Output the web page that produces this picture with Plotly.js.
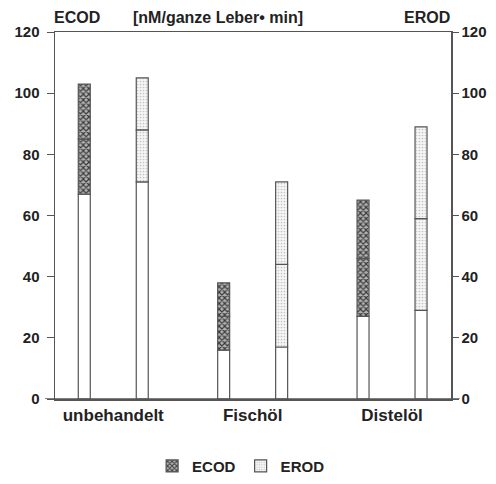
<!DOCTYPE html>
<html>
<head>
<meta charset="utf-8">
<script src="https://cdn.plot.ly/plotly-3.0.1.min.js"></script>
<style>html,body{margin:0;padding:0;background:#fff;}#chart{width:496px;height:484px;}</style>
</head>
<body>
<div id="chart"></div>
<script>
// Data (nM / ganze Leber · min)
var categories = ["unbehandelt", "Fischöl", "Distelöl"];
var ecodLow  = [67, 16, 27];
var ecodMean = [85, 27, 46];
var ecodHigh = [103, 38, 65];
var erodLow  = [71, 17, 29];
var erodMean = [88, 44, 59];
var erodHigh = [105, 71, 89];
var yTicks = [0, 20, 40, 60, 80, 100, 120];

function diff(a, b) { return a.map(function (v, i) { return v - b[i]; }); }

var lineStyle = {color: "#555", width: 1.2};
var ecodPattern = {shape: "x", fgcolor: "#3a3a3a", bgcolor: "#b4b4b4", size: 4, solidity: 0.5};
var erodPattern = {shape: ".", fgcolor: "#c4c4c4", bgcolor: "#f6f6f6", size: 3, solidity: 0.25};
var W = 0.086, offE = -0.251, offR = 0.165;

function seg(name, base, len, off, color, pattern, showlegend) {
  var m = {color: color, line: lineStyle};
  if (pattern) m.pattern = pattern;
  return {type: "bar", x: categories, y: len, base: base, width: W, offset: off,
          marker: m, name: name, showlegend: !!showlegend, hoverinfo: "skip"};
}

var zeros = [0, 0, 0];
var traces = [
  seg("ECOD", zeros, ecodLow, offE, "#ffffff", null, false),
  seg("ECOD", ecodLow, diff(ecodMean, ecodLow), offE, "#b4b4b4", ecodPattern, true),
  seg("ECOD", ecodMean, diff(ecodHigh, ecodMean), offE, "#b4b4b4", ecodPattern, false),
  seg("EROD", zeros, erodLow, offR, "#ffffff", null, false),
  seg("EROD", erodLow, diff(erodMean, erodLow), offR, "#f6f6f6", erodPattern, true),
  seg("EROD", erodMean, diff(erodHigh, erodMean), offR, "#f6f6f6", erodPattern, false),
  {type: "scatter", x: [categories[0]], y: [0], yaxis: "y2", mode: "markers",
   marker: {opacity: 0}, showlegend: false, hoverinfo: "skip"}
];

var fam = "Liberation Sans, Arial, sans-serif";
var fontB = {family: fam, size: 15, color: "#222", weight: "bold"};
var fontT = {family: fam, size: 16, color: "#222", weight: "bold"};

var layout = {
  width: 496, height: 484,
  margin: {l: 55, r: 45, t: 32, b: 85, autoexpand: false},
  paper_bgcolor: "#ffffff", plot_bgcolor: "#ffffff",
  barmode: "overlay",
  font: fontB,
  xaxis: {type: "category", range: [-0.418, 2.423], showgrid: false, zeroline: false,
          showline: true, mirror: true, linecolor: "#555", linewidth: 1.5, ticks: "",
          tickfont: {family: fam, size: 17, color: "#222", weight: "bold"}},
  yaxis: {range: [0, 120], tickvals: yTicks, showgrid: false, zeroline: false,
          showline: true, linecolor: "#555", linewidth: 1.5, ticks: "outside", ticklen: 7,
          ticklabelstandoff: 4, tickcolor: "#555", tickfont: fontB},
  yaxis2: {range: [0, 120], tickvals: yTicks, overlaying: "y", side: "right",
           showgrid: false, zeroline: false, showline: true, linecolor: "#555", linewidth: 1.5,
           ticks: "outside", ticklen: 6, tickcolor: "#555", tickfont: fontB},
  legend: {orientation: "h", x: 0.47, xanchor: "center", y: -0.183, yanchor: "middle",
           font: fontB, bgcolor: "rgba(0,0,0,0)", itemwidth: 30},
  shapes: [
    {type: "line", xref: "paper", yref: "y", x0: -0.025, x1: 1.022, y0: 0, y1: 0,
     line: {color: "#555", width: 1.5}}
  ],
  annotations: [
    {text: "ECOD", xref: "paper", yref: "paper", x: -0.008, y: 1.04, xanchor: "left", yanchor: "middle",
     showarrow: false, font: fontT},
    {text: "[nM/ganze Leber• min]", xref: "paper", yref: "paper", x: 0.412, y: 1.04, xanchor: "center", yanchor: "middle",
     showarrow: false, font: fontT},
    {text: "EROD", xref: "paper", yref: "paper", x: 1.003, y: 1.04, xanchor: "right", yanchor: "middle",
     showarrow: false, font: fontT}
  ]
};

Plotly.newPlot("chart", traces, layout, {staticPlot: true});
</script>
</body>
</html>
